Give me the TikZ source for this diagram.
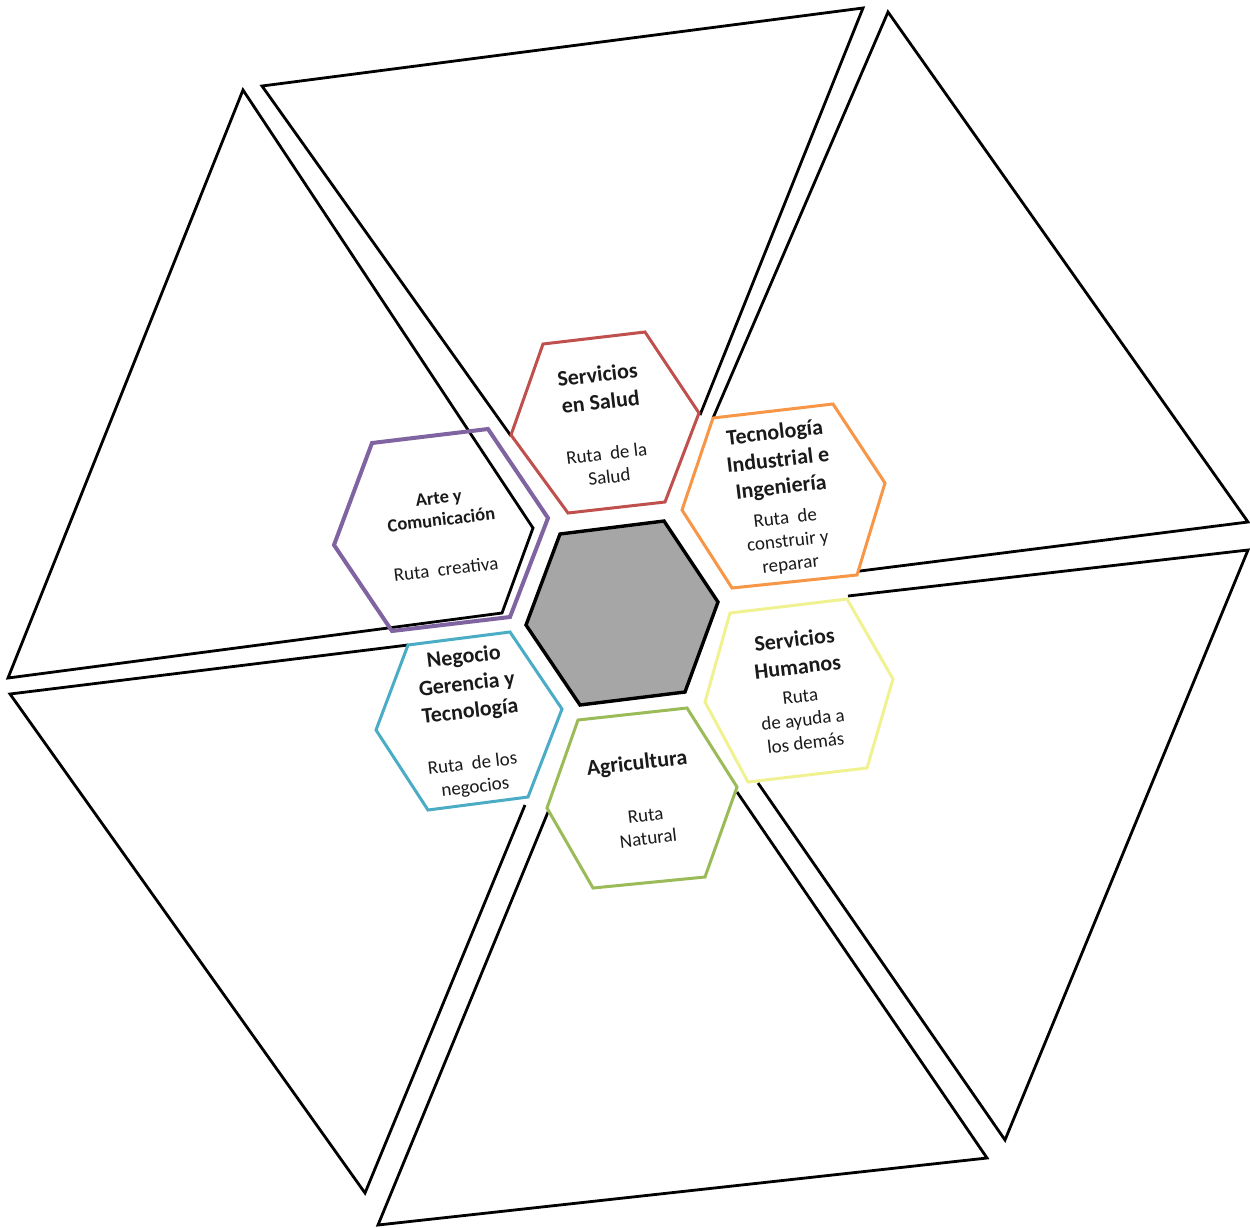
\documentclass[tikz,border=0pt]{standalone}
\usepackage{fontspec}
\setmainfont{Carlito}
\definecolor{cRed}{HTML}{C0504D}
\definecolor{cOrange}{HTML}{F79646}
\definecolor{cYellow}{RGB}{240,242,145}
\definecolor{cGreen}{HTML}{9BBB59}
\definecolor{cBlue}{HTML}{4BACC6}
\definecolor{cPurple}{HTML}{8064A2}
\definecolor{cGray}{HTML}{A6A6A6}
\definecolor{cText}{HTML}{1A1A1A}
\begin{document}
\begin{tikzpicture}[x=1pt,y=-1pt,
  bigshape/.style={draw=black, line width=2.8pt, line join=miter},
  hexbox/.style={line width=3pt, fill=white, line join=miter},
  ttl/.style={font=\bfseries\fontsize{22}{27.5}\selectfont, text=cText, align=center, inner sep=0pt, rotate=6.7},
  smallttl/.style={font=\bfseries\fontsize{18.5}{22}\selectfont, text=cText, align=center, inner sep=0pt, rotate=6.7},
  sub/.style={font=\fontsize{19}{23.5}\selectfont, text=cText, align=center, inner sep=0pt, rotate=6.7}]
\useasboundingbox (0,0) rectangle (1250,1227);
\fill[white] (0,0) rectangle (1250,1227);

% large outer shapes
\draw[bigshape] (511,436) -- (262,86) -- (863,8) -- (700,415);
\draw[bigshape] (713,418) -- (888,12) -- (1248,522) -- (852,572);
\draw[bigshape] (848,596) -- (1248,550) -- (1005,1140) -- (758,783);
\draw[bigshape] (737,792) -- (987,1158) -- (378,1225) -- (548,812);
\draw[bigshape] (525,805) -- (365,1193) -- (10,694) -- (408,645);
\draw[bigshape] (243,90) -- (533,528) -- (502,613) -- (8,678) -- cycle;

% central hexagon
\draw[line width=3.4pt, fill=cGray, line join=miter] (560,534) -- (664,521) -- (718,602) -- (685,692) -- (580,705) -- (526,625) -- cycle;

% coloured hexagons
\draw[hexbox, draw=cRed] (543,344) -- (645,332) -- (699,413) -- (665,502) -- (568,513) -- (511,435) -- cycle;
\draw[hexbox, draw=cOrange] (713,418) -- (833,404) -- (885,483) -- (857,575) -- (732,588) -- (682,510) -- cycle;
\draw[hexbox, draw=cYellow] (730,613) -- (847,599) -- (893,679) -- (867,768) -- (748,782) -- (705,702) -- cycle;
\draw[hexbox, draw=cGreen] (578,720) -- (687,708) -- (737,787) -- (705,877) -- (593,888) -- (547,808) -- cycle;
\draw[hexbox, draw=cBlue] (408,645) -- (510,632) -- (562,709) -- (528,797) -- (428,810) -- (376,730) -- cycle;
\draw[draw=cPurple, line width=4pt, line join=miter] (372,443) -- (488,429) -- (548,518) -- (510,617) -- (392,631) -- (334,545) -- cycle;

% texts
\node[ttl] (saludT) at (599,388) {Servicios\\en Salud};
\node[sub] (saludS) at (608,465) {Ruta~ de la\\Salud};
\node[ttl] (tecT) at (778,461) {Tecnología\\Industrial e\\Ingeniería};
\node[sub] (tecS) at (788,542) {Ruta~ de\\construir y\\reparar};
\node[ttl] (humT) at (796,653) {Servicios\\Humanos};
\node[sub] (humS) at (803,720) {Ruta\\de ayuda a\\los demás};
\node[ttl] (agrT) at (637,764) {Agricultura};
\node[sub] (agrS) at (647,827) {Ruta\\Natural};
\node[ttl] (negT) at (467,685) {Negocio\\Gerencia y\\Tecnología};
\node[sub] (negS) at (474,776) {Ruta~ de los\\negocios};
\node[smallttl] (arteT) at (440,509) {Arte y\\Comunicación};
\node[sub] (arteS) at (446,569) {Ruta~ creativa};
\end{tikzpicture}
\end{document}
